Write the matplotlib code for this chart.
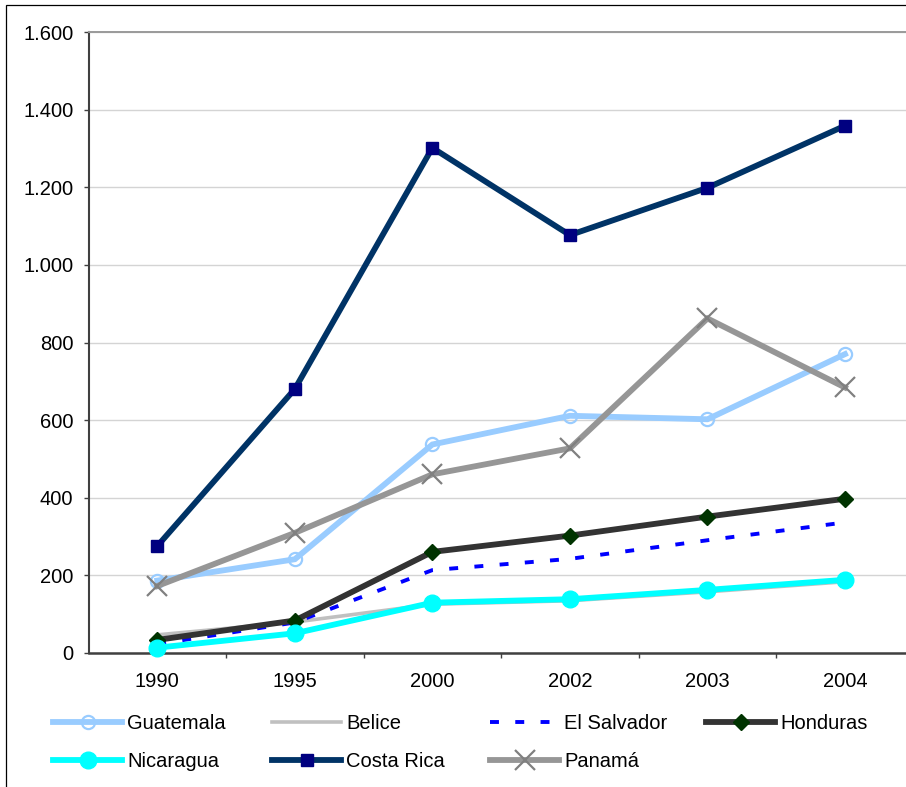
import matplotlib
matplotlib.use("Agg")
import matplotlib.pyplot as plt
from matplotlib.ticker import FixedLocator, FuncFormatter, NullFormatter
from matplotlib.patches import Rectangle

# ---- data -------------------------------------------------------------
years = ["1990", "1995", "2000", "2002", "2003", "2004"]

guatemala = [186, 241, 537, 611, 602, 770]
belice = [46, 79, 125, 134, 157, 183]
el_salvador = [22, 78, 213, 242, 290, 336]
honduras = [33, 83, 260, 302, 351, 397]
nicaragua = [13, 50, 129, 138, 162, 188]
costa_rica = [275, 680, 1302, 1077, 1199, 1359]
panama = [172, 309, 460, 527, 862, 684]

y_ticks = [0, 200, 400, 600, 800, 1000, 1200, 1400, 1600]

# ---- styling ------------------------------------------------------------
plt.rcParams["font.family"] = ["Liberation Sans", "DejaVu Sans"]
FS = 14.5

W, H = 906, 787
fig = plt.figure(figsize=(W / 100, H / 100), dpi=100)

# outer chart frame (only its top and left edges fall inside the image)
fig.patches.append(Rectangle((5.5 / W, -0.5), 2.0, 1.5 - 5.0 / H,
                             transform=fig.transFigure, fill=False,
                             edgecolor="black", linewidth=0.9))

left_px, right_px = 88.5, 913.75
bottom_px, top_px = 652.7, 32.3
ax = fig.add_axes([left_px / W, (H - bottom_px) / H,
                   (right_px - left_px) / W, (bottom_px - top_px) / H])
ax.set_facecolor("none")

x = list(range(len(years)))

series = [
    ("Guatemala", guatemala, dict(color="#99CCFF", lw=4.2, marker="o", ms=9.5,
                                  mfc="none", mec="#99CCFF", mew=1.6)),
    ("Belice", belice, dict(color="#C0C0C0", lw=2.6)),
    ("El Salvador", el_salvador, dict(color="#0000FF", lw=2.8,
                                      linestyle=(0, (2.3, 4.2)))),
    ("Honduras", honduras, dict(color="#333333", lw=4.2, marker="D", ms=8,
                                mfc="#003300", mec="#003300")),
    ("Nicaragua", nicaragua, dict(color="#00FFFF", lw=4.2, marker="o", ms=12,
                                  mfc="#00FFFF", mec="#00FFFF")),
    ("Costa Rica", costa_rica, dict(color="#003366", lw=4.2, marker="s", ms=8.5,
                                    mfc="#000080", mec="#000080")),
    ("Panamá", panama, dict(color="#969696", lw=4.2, marker="x", ms=14,
                            mec="#808080", mew=1.6)),
]

handles = {}
for name, vals, style in series:
    (ln,) = ax.plot(x, vals, label=name, solid_joinstyle="miter",
                    clip_on=False, zorder=3, **style)
    handles[name] = ln

# axes limits and ticks
ax.set_xlim(-0.5, len(years) - 0.5)
ax.set_ylim(0, 1600)

ax.yaxis.set_major_locator(FixedLocator(y_ticks))
ax.yaxis.set_major_formatter(
    FuncFormatter(lambda v, p: f"{v:,.0f}".replace(",", ".")))
ax.grid(axis="y", color="#D4D4D4", linewidth=1.0, zorder=0)
ax.set_axisbelow(True)

ax.xaxis.set_major_locator(FixedLocator([i + 0.5 for i in range(len(years) - 1)]))
ax.xaxis.set_major_formatter(NullFormatter())
ax.xaxis.set_minor_locator(FixedLocator(x))
ax.xaxis.set_minor_formatter(FuncFormatter(lambda v, p: years[int(round(v))]))

ax.tick_params(axis="y", which="major", direction="out", length=3.8, width=1,
               color="#404040", labelsize=FS, pad=7, labelcolor="black")
ax.tick_params(axis="x", which="major", direction="out", length=3.8, width=1,
               color="#404040")
ax.tick_params(axis="x", which="minor", length=0, labelsize=FS, pad=14,
               labelcolor="black")

ax.spines["right"].set_visible(False)
ax.spines["top"].set_color("#9A9A9A")
ax.spines["top"].set_linewidth(1.4)
ax.spines["left"].set_color("#404040")
ax.spines["left"].set_linewidth(1.5)
ax.spines["bottom"].set_color("#404040")
ax.spines["bottom"].set_linewidth(1.8)

# ---- legend: four columns on a regular grid -----------------------------
columns = [["Guatemala", "Nicaragua"], ["Belice", "Costa Rica"],
           ["El Salvador", "Panamá"], ["Honduras"]]
col_x = [53, 272, 490, 706]
legend_top = 714
for names, cx in zip(columns, col_x):
    fig.legend([handles[n] for n in names], names, loc="upper left",
               bbox_to_anchor=(cx / W, (H - legend_top) / H),
               frameon=False, fontsize=FS, handlelength=3.43,
               handletextpad=0.25, borderpad=0, borderaxespad=0,
               labelspacing=0.95, numpoints=1)

fig.savefig("out.png", dpi=100)
